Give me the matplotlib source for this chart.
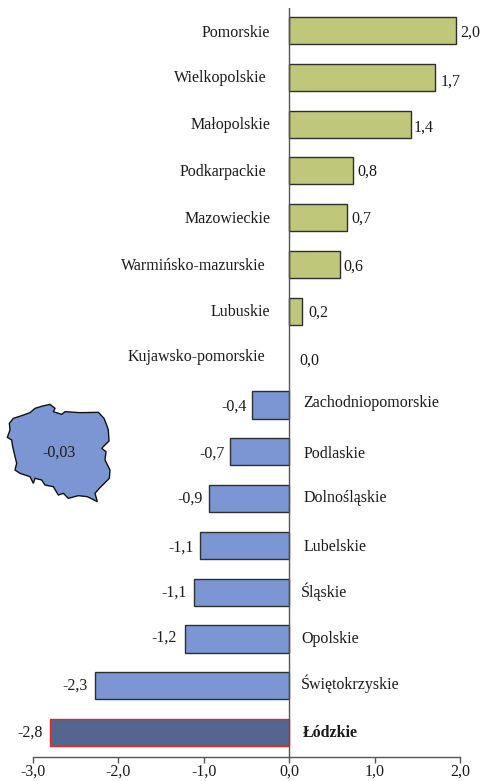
import matplotlib
matplotlib.use("Agg")
import matplotlib.pyplot as plt
from matplotlib.patches import Polygon
from matplotlib.ticker import FixedLocator, FixedFormatter

W, H = 486, 781
regions = ["Pomorskie", "Wielkopolskie", "Małopolskie", "Podkarpackie", "Mazowieckie",
           "Warmińsko-mazurskie", "Lubuskie", "Kujawsko-pomorskie", "Zachodniopomorskie",
           "Podlaskie", "Dolnośląskie", "Lubelskie", "Śląskie", "Opolskie",
           "Świętokrzyskie", "Łódzkie"]
values = [1.95, 1.71, 1.43, 0.75, 0.68, 0.59, 0.15, 0.0, -0.44, -0.69, -0.94, -1.05,
          -1.11, -1.22, -2.27, -2.80]
value_labels = ["2,0", "1,7", "1,4", "0,8", "0,7", "0,6", "0,2", "0,0", "-0,4", "-0,7",
                "-0,9", "-1,1", "-1,1", "-1,2", "-2,3", "-2,8"]
x_ticks = [-3, -2, -1, 0, 1, 2]
x_tick_labels = ["-3,0", "-2,0", "-1,0", "0,0", "1,0", "2,0"]
national_label = "-0,03"

# manual label placement in pixels, relative to bar end / axis zero, as in the source
name_dx = [-19, -23, -19, -23, -19, -24, -19, -24, 14, 14, 14, 14, 12, 12, 12, 13]
name_dy = [1, -1, -1, -1, -1, -1, -1, -3, -4, 0, -3, 0, -2, -2, -4, -2]
value_dx = [5, 5, 2, 4, 4, 4, 6, 10, -5, -6, -6, -6, -8, -8, -8, -7]
value_dy = [0, 2, 2, -1, -1, 0, -1, 0, 0, 0, -2, 0, -2, -3, -2, -2]

BAR_POS = "#BFC77A"
BAR_NEG = "#7B96D2"
BAR_HI = "#54658F"
EDGE = "#2e2e2e"
TEXT = "#1a1a1a"

plt.rcParams["font.family"] = ["Liberation Serif", "DejaVu Serif"]
FS = 11.5
fig = plt.figure(figsize=(W / 100, H / 100), dpi=100)
left, right, top, bottom = 33, 460, 8, 757
ax = fig.add_axes([left / W, 1 - bottom / H, (right - left) / W, (bottom - top) / H])
ys = list(range(len(regions)))
colors = [BAR_POS if v > 0 else BAR_NEG for v in values]
colors[-1] = BAR_HI
edges = [EDGE] * len(values)
edges[-1] = "#E0281E"
widths = [1.0 if v != 0 else 0 for v in values]
ax.barh(ys, values, height=0.58, color=colors, edgecolor=edges, linewidth=widths, zorder=2)
ax.set_xlim(-3, 2)
ax.set_ylim(len(regions) - 0.5 + 0.02, -0.5 + 0.02)

for s in ("top", "right", "left"):
    ax.spines[s].set_visible(False)
ax.spines["bottom"].set_color("#555555")
ax.spines["bottom"].set_linewidth(1.0)
ax.axvline(0, color="#555555", linewidth=1.0, zorder=3)
ax.yaxis.set_visible(False)
ax.xaxis.set_major_locator(FixedLocator(x_ticks))
ax.xaxis.set_major_formatter(FixedFormatter(x_tick_labels))
ax.tick_params(axis="x", direction="out", length=4, width=1.0, color="#555555",
               labelsize=FS, labelcolor=TEXT, pad=0.5)

PX = 0.72
for i, (name, v, lab) in enumerate(zip(regions, values, value_labels)):
    neg = v < 0
    ax.annotate(name, xy=(0, i), xytext=(name_dx[i] * PX, -name_dy[i] * PX),
                textcoords="offset points", ha="left" if neg else "right", va="center_baseline",
                fontsize=FS, color=TEXT, fontweight="bold" if name == "Łódzkie" else "normal")
    ax.annotate(lab, xy=(v, i), xytext=(value_dx[i] * PX, -value_dy[i] * PX),
                textcoords="offset points", ha="right" if neg else "left", va="center_baseline",
                fontsize=FS, color=TEXT)

# Outline of Poland (decorative shape, in zoomed-reference pixels)
outline = [(40,115),(62,108),(90,98),(105,85),(128,78),(150,73),(165,85),(160,95),(185,103),
           (195,95),(240,98),(295,97),(312,115),(320,135),(325,150),(327,183),(305,205),
           (318,215),(315,240),(330,270),(328,295),(298,325),(285,340),(292,365),(262,350),
           (235,347),(205,355),(190,340),(175,345),(160,320),(135,315),(125,300),(105,295),
           (100,310),(90,290),(60,280),(45,270),(50,250),(38,200),(35,180),(22,172),(30,150),(28,130)]
pts = [(x / 3 / W, 1 - (380 + y / 3) / H) for x, y in outline]
fig.add_artist(Polygon(pts, closed=True, facecolor=BAR_NEG, edgecolor="#111111",
                       linewidth=1.0, transform=fig.transFigure))
fig.text(59 / W, 1 - 451 / H, national_label, ha="center", va="center_baseline", fontsize=FS, color=TEXT)

fig.savefig("out.png", dpi=100)
